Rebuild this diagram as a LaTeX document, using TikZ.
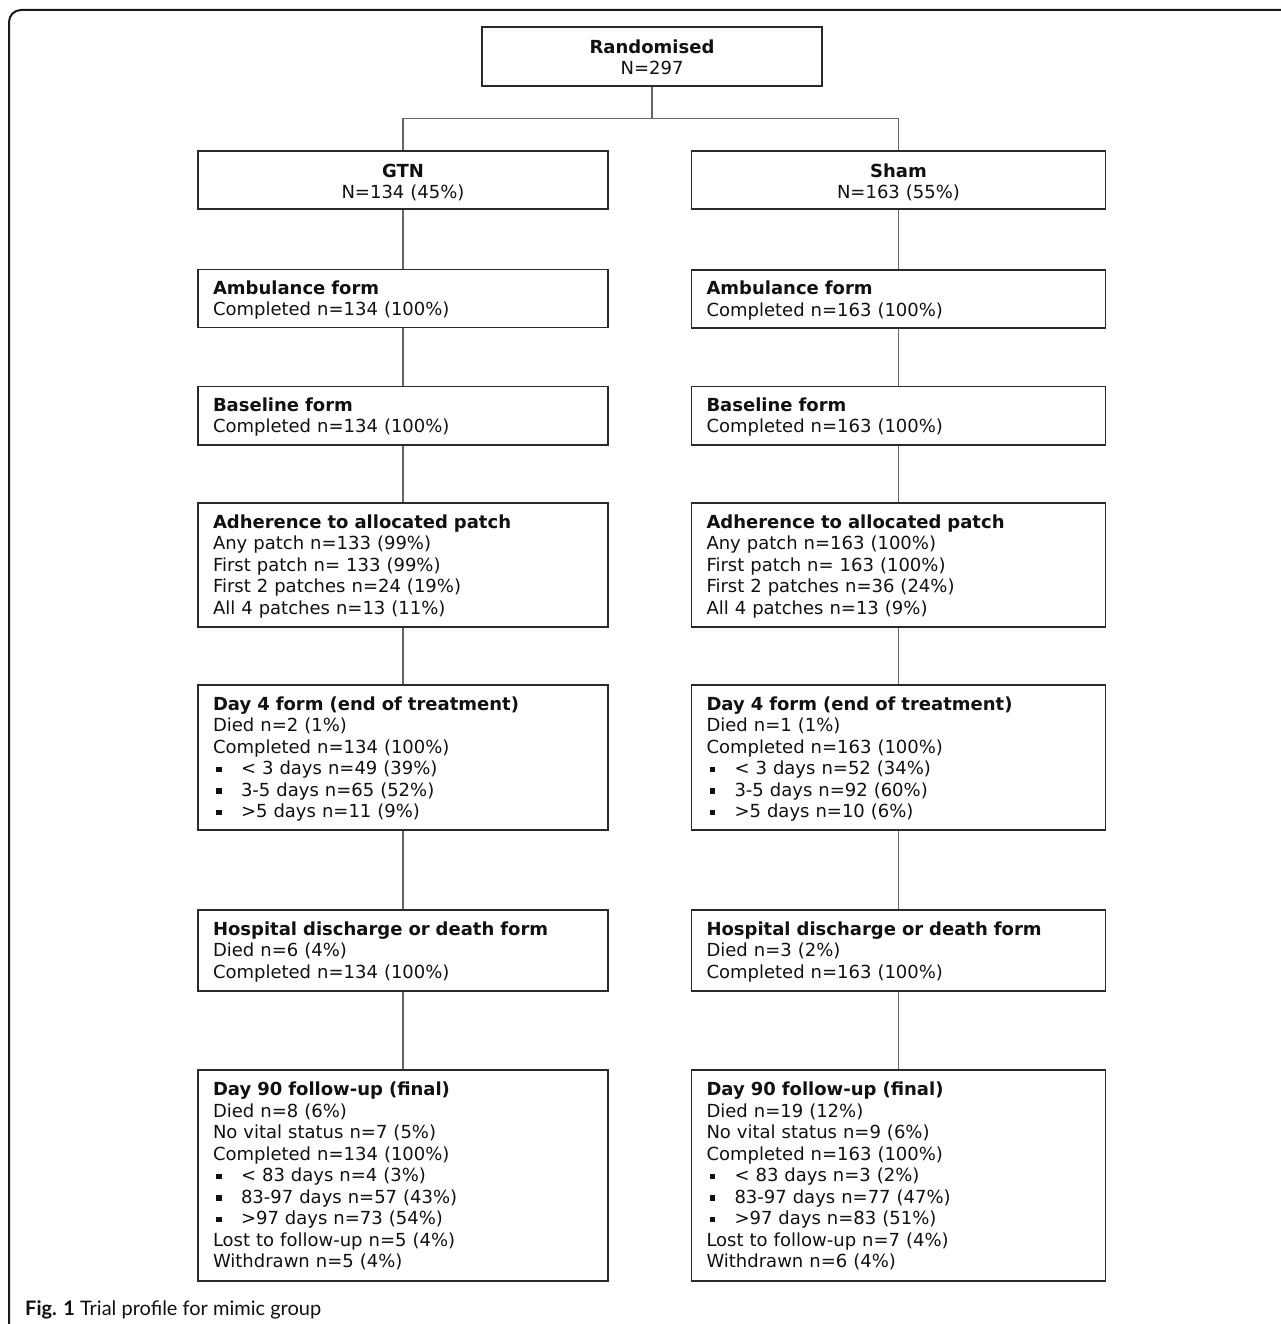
\documentclass[tikz,border=0pt]{standalone}
\usepackage{fontspec}
\setmainfont{DejaVu Sans}
\newfontfamily\capfont{Lato}
\definecolor{boxcol}{HTML}{2A2A2A}
\definecolor{conncol}{HTML}{666666}
\definecolor{txtcol}{HTML}{111111}
\newcommand\bul{\makebox[28pt][l]{\hspace{3pt}\rule[2.5pt]{5.5pt}{5.5pt}}}
% asymmetric struts shift the text block down a little inside each box
\newcommand\tst{\rule{0pt}{17pt}}
\newcommand\bst{\rule[-4.5pt]{0pt}{4.5pt}}
\newcommand\tsc{\rule{0pt}{18.5pt}}
\newcommand\bsc{\rule[-3pt]{0pt}{3pt}}
\begin{document}
\begin{tikzpicture}[x=1pt,y=-1pt,
  box/.style={draw=boxcol, line width=1.8pt, fill=white, inner xsep=15pt, inner ysep=0pt,
    align=left, text=txtcol, font=\fontsize{18}{21.5}\selectfont},
  cbox/.style={box, align=center},
  lbox/.style={box, text width=380pt},
  rbox/.style={box, text width=384pt},
  conn/.style={draw=conncol, line width=1.2pt},
  frame/.style={draw=black!90, line width=2pt, rounded corners=12pt}]
\useasboundingbox (0,0) rectangle (1281,1324);
\begin{scope}
\clip (0,0) rectangle (1281,1324);
\draw[frame] (1320,10) -- (9,10) -- (9,1360);
\end{scope}

% top boxes
\node[cbox, text width=310pt, minimum height=59pt] (rand) at (652,56.5)
  {\tsc\textbf{Randomised}\\N=297\bsc};
\node[cbox, text width=380pt, minimum height=58pt] (gtn) at (403,180.25)
  {\tsc\textbf{GTN}\\N=134 (45\%)\bsc};
\node[cbox, text width=384pt, minimum height=58pt] (sham) at (898.5,180.25)
  {\tsc\textbf{Sham}\\N=163 (55\%)\bsc};

% left column
\node[lbox, minimum height=58pt] (ambL) at (403,298.5)
  {\tst\textbf{Ambulance form}\\Completed n=134 (100\%)\bst};
\node[lbox, minimum height=58.5pt] (baseL) at (403,415.75)
  {\tst\textbf{Baseline form}\\Completed n=134 (100\%)\bst};
\node[lbox, minimum height=123.5pt] (adhL) at (403,565)
  {\tst\textbf{Adherence to allocated patch}\\Any patch n=133 (99\%)\\First patch n= 133 (99\%)\\First 2 patches n=24 (19\%)\\All 4 patches n=13 (11\%)\bst};
\node[lbox, minimum height=144.7pt] (dayfourL) at (403,757.7)
  {\tst\textbf{Day 4 form (end of treatment)}\\Died n=2 (1\%)\\Completed n=134 (100\%)\\\bul< 3 days n=49 (39\%)\\\bul3-5 days n=65 (52\%)\\\bul>5 days n=11 (9\%)\bst};
\node[lbox, minimum height=80.7pt] (hospL) at (403,950.3)
  {\tst\textbf{Hospital discharge or death form}\\Died n=6 (4\%)\\Completed n=134 (100\%)\bst};
\node[lbox, minimum height=211pt] (dninetyL) at (403,1175.5)
  {\tst\textbf{Day 90 follow-up (final)}\\Died n=8 (6\%)\\No vital status n=7 (5\%)\\Completed n=134 (100\%)\\\bul< 83 days n=4 (3\%)\\\bul83-97 days n=57 (43\%)\\\bul>97 days n=73 (54\%)\\Lost to follow-up n=5 (4\%)\\Withdrawn n=5 (4\%)\bst};

% right column
\node[rbox, minimum height=58pt] (ambR) at (898.5,299)
  {\tst\textbf{Ambulance form}\\Completed n=163 (100\%)\bst};
\node[rbox, minimum height=58.5pt] (baseR) at (898.5,415.75)
  {\tst\textbf{Baseline form}\\Completed n=163 (100\%)\bst};
\node[rbox, minimum height=123.5pt] (adhR) at (898.5,565)
  {\tst\textbf{Adherence to allocated patch}\\Any patch n=163 (100\%)\\First patch n= 163 (100\%)\\First 2 patches n=36 (24\%)\\All 4 patches n=13 (9\%)\bst};
\node[rbox, minimum height=144.7pt] (dayfourR) at (898.5,757.7)
  {\tst\textbf{Day 4 form (end of treatment)}\\Died n=1 (1\%)\\Completed n=163 (100\%)\\\bul< 3 days n=52 (34\%)\\\bul3-5 days n=92 (60\%)\\\bul>5 days n=10 (6\%)\bst};
\node[rbox, minimum height=80.7pt] (hospR) at (898.5,950.3)
  {\tst\textbf{Hospital discharge or death form}\\Died n=3 (2\%)\\Completed n=163 (100\%)\bst};
\node[rbox, minimum height=211pt] (dninetyR) at (898.5,1175.5)
  {\tst\textbf{Day 90 follow-up (final)}\\Died n=19 (12\%)\\No vital status n=9 (6\%)\\Completed n=163 (100\%)\\\bul< 83 days n=3 (2\%)\\\bul83-97 days n=77 (47\%)\\\bul>97 days n=83 (51\%)\\Lost to follow-up n=7 (4\%)\\Withdrawn n=6 (4\%)\bst};

% connectors
\coordinate (split) at (652,118.3);
\draw[conn] (rand.south) -- (split);
\draw[conn] (gtn.north) -- (gtn.north |- split) -- (sham.north |- split) -- (sham.north);
\draw[conn] (gtn) -- (ambL);
\draw[conn] (ambL) -- (baseL);
\draw[conn] (baseL) -- (adhL);
\draw[conn] (adhL) -- (dayfourL);
\draw[conn] (dayfourL) -- (hospL);
\draw[conn] (hospL) -- (dninetyL);
\draw[conn] (sham) -- (ambR);
\draw[conn] (ambR) -- (baseR);
\draw[conn] (baseR) -- (adhR);
\draw[conn] (adhR) -- (dayfourR);
\draw[conn] (dayfourR) -- (hospR);
\draw[conn] (hospR) -- (dninetyR);

% caption
\node[anchor=base west, inner sep=0pt, text=txtcol, font=\capfont\fontsize{20}{24}\selectfont] (cap) at (25,1315)
  {\textbf{Fig. 1} Trial profile for mimic group};
\end{tikzpicture}
\end{document}
